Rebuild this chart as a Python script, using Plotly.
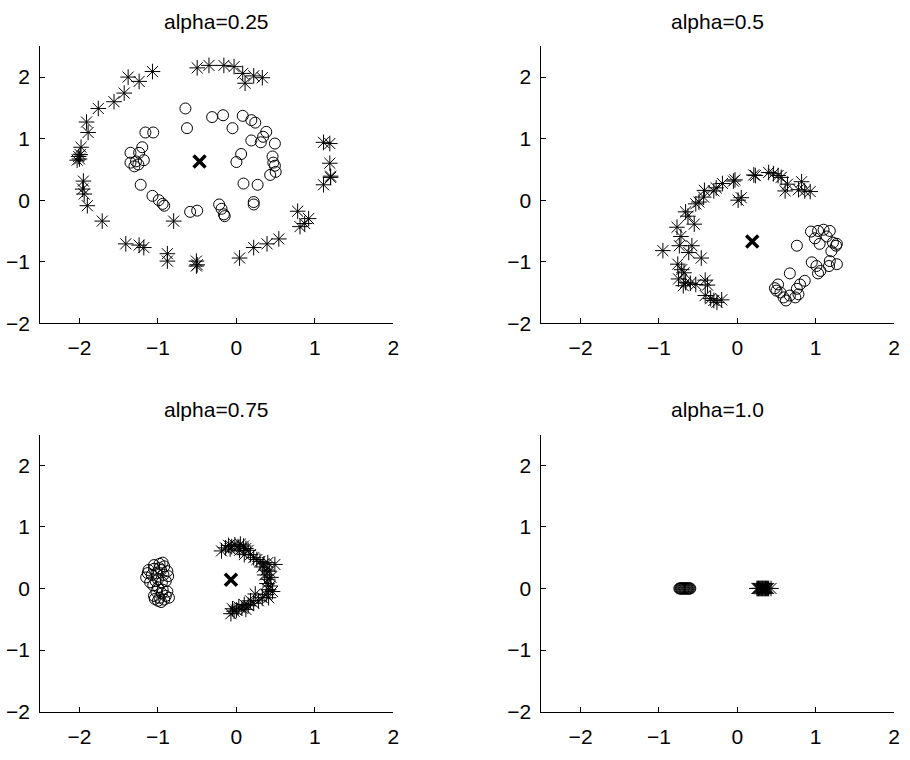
import plotly.graph_objects as go

titles = ["alpha=0.25", "alpha=0.5", "alpha=0.75", "alpha=1.0"]
x_ticks = [-2, -1, 0, 1, 2]
y_ticks = [-2, -1, 0, 1, 2]

# Panel 1 (alpha=0.25)
p1_star_x = [-1.07, -1.38, -1.24, -1.43, -1.56, -1.76, -1.91, -1.89, -1.98, -2.01, -2.00, -2.03, -1.99,
             -1.95, -1.96, -1.94, -1.90, -1.71, -1.41, -1.24, -1.18, -0.88, -0.88, -0.51, -0.51, -0.80,
             -0.50, -0.35, -0.16, -0.03, 0.08, 0.11, 0.22, 0.33, 1.11, 1.19, 1.19, 1.20, 1.20, 1.11,
             0.78, 0.92, 0.87, 0.81, 0.54, 0.39, 0.22, 0.04, -0.50]
p1_star_y = [2.09, 2.00, 1.93, 1.74, 1.60, 1.49, 1.27, 1.10, 0.86, 0.71, 0.67, 0.65, 0.74,
             0.31, 0.18, 0.10, -0.09, -0.34, -0.71, -0.73, -0.77, -0.87, -0.99, -0.99, -1.07, -0.34,
             2.15, 2.19, 2.19, 2.17, 2.06, 1.90, 2.02, 1.99, 0.94, 0.92, 0.60, 0.39, 0.37, 0.25,
             -0.18, -0.30, -0.38, -0.43, -0.63, -0.71, -0.77, -0.94, -1.05]
p1_circ_x = [-0.65, -0.63, -1.16, -1.06, -1.20, -1.35, -1.24, -1.35, -1.18, -1.28, -1.30, -1.25,
             -1.22, -1.07, -0.99, -0.92, -0.94, -0.59, -0.50,
             -0.31, -0.17, -0.05, 0.08, 0.19, 0.24, 0.38, 0.34, 0.19, 0.31, 0.49, 0.06, 0.00,
             0.46, 0.47, 0.49, 0.50, 0.43, 0.09, 0.27, 0.22, 0.22, -0.22, -0.19, -0.16, -0.15]
p1_circ_y = [1.49, 1.17, 1.10, 1.10, 0.86, 0.77, 0.77, 0.61, 0.65, 0.63, 0.55, 0.58,
             0.25, 0.07, 0.00, -0.09, -0.06, -0.19, -0.17,
             1.35, 1.38, 1.17, 1.37, 1.30, 1.26, 1.11, 1.03, 0.97, 0.94, 0.92, 0.75, 0.62,
             0.71, 0.61, 0.56, 0.46, 0.41, 0.27, 0.25, -0.03, -0.07, -0.07, -0.14, -0.23, -0.26]
p1_center = ([-0.47], [0.63])

# Panel 2 (alpha=0.5)
p2_star_x = [0.21, -0.03, -0.05, -0.19, -0.27, -0.30, -0.42, -0.43, -0.49, -0.53, 0.05, 0.01,
             -0.66, -0.63, -0.55, -0.77, -0.72, -0.74, -0.58, -0.62, -0.46, -0.95, -0.76, -0.71,
             -0.68, -0.75, -0.66, -0.60, -0.53, -0.41, -0.38, -0.69, -0.41, -0.34, -0.30, -0.26, -0.20,
             0.23, 0.40, 0.46, 0.52, 0.56, 0.64, 0.61, 0.82, 0.78, 0.86, 0.93]
p2_star_y = [0.41, 0.33, 0.31, 0.27, 0.20, 0.15, 0.16, 0.05, -0.03, -0.06, 0.04, 0.00,
             -0.19, -0.26, -0.39, -0.44, -0.59, -0.74, -0.74, -0.85, -0.94, -0.82, -1.04, -1.13,
             -1.18, -1.28, -1.34, -1.35, -1.37, -1.30, -1.38, -1.39, -1.55, -1.60, -1.63, -1.66, -1.62,
             0.40, 0.45, 0.43, 0.40, 0.37, 0.26, 0.15, 0.30, 0.17, 0.15, 0.14]
p2_circ_x = [0.76, 0.94, 1.03, 1.10, 1.18, 0.99, 1.05, 1.14, 1.22, 1.26, 1.20, 1.27,
             0.95, 1.01, 1.06, 1.03, 1.18, 1.27, 1.17, 0.67, 0.86, 0.80, 0.76, 0.52,
             0.48, 0.55, 0.59, 0.67, 0.74, 0.62, 0.50, 0.78]
p2_circ_y = [-0.74, -0.51, -0.50, -0.48, -0.50, -0.62, -0.71, -0.59, -0.69, -0.74, -0.83, -0.71,
             -1.01, -1.07, -1.15, -1.19, -0.99, -1.04, -1.07, -1.19, -1.31, -1.37, -1.44, -1.37,
             -1.43, -1.50, -1.58, -1.55, -1.58, -1.63, -1.47, -1.53]
p2_center = ([0.19], [-0.67])

# Panel 3 (alpha=0.75)
p3_star_x = [-0.19, -0.14, -0.10, -0.06, -0.02, 0.02, 0.05, 0.09, 0.12, 0.15, 0.04, -0.08, 0.10, 0.18,
             0.22, 0.26, 0.30, 0.35, 0.40, 0.49, 0.33, 0.38, 0.42, 0.36, 0.40, 0.44, 0.39, 0.43, 0.41,
             0.46, 0.38, 0.41, 0.33, 0.28, 0.24, 0.22, 0.18, 0.15, 0.10, 0.07, 0.03, 0.00, -0.03,
             -0.07, -0.05, 0.12]
p3_star_y = [0.61, 0.66, 0.70, 0.68, 0.71, 0.68, 0.72, 0.69, 0.65, 0.62, 0.62, 0.64, 0.55, 0.55,
             0.50, 0.47, 0.44, 0.40, 0.42, 0.39, 0.35, 0.30, 0.28, 0.22, 0.15, 0.18, 0.08, 0.04, -0.02,
             -0.05, -0.10, -0.15, -0.15, -0.20, -0.09, -0.24, -0.20, -0.28, -0.26, -0.32, -0.30, -0.35,
             -0.37, -0.41, -0.33, -0.34]
p3_circ_x = [-1.12, -1.05, -0.98, -0.92, -0.88, -0.87, -1.15, -1.10, -1.02, -0.96, -1.00, -0.95,
             -1.06, -0.90, -1.08, -0.98, -1.03, -0.93, -1.13, -1.00, -1.05, -0.94,
             -1.02, -0.95, -0.90, -1.05, -0.98, -0.92, -1.00, -0.88, -0.96, -1.04, -0.86, -0.94]
p3_circ_y = [0.30, 0.38, 0.40, 0.36, 0.28, 0.20, 0.18, 0.10, 0.25, 0.30, 0.15, 0.10,
             0.05, 0.12, 0.22, 0.33, 0.12, 0.22, 0.25, 0.02, 0.32, 0.42,
             -0.05, -0.08, -0.12, -0.12, -0.15, -0.18, -0.20, -0.05, -0.22, -0.17, -0.15, -0.02]
p3_center = ([-0.07], [0.14])

# Panel 4 (alpha=1.0)
p4_star_x = [0.25, 0.26, 0.27, 0.28, 0.29, 0.30, 0.31, 0.32, 0.33, 0.34, 0.35, 0.36, 0.37, 0.38,
             0.39, 0.40, 0.43]
p4_star_y = [0.0] * 17
p4_circ_x = [-0.74, -0.73, -0.72, -0.71, -0.70, -0.69, -0.68, -0.67, -0.66, -0.65, -0.64, -0.63,
             -0.62, -0.61, -0.60]
p4_circ_y = [0.0] * 15
p4_center = ([0.33], [0.0])

panels = [
    (p1_star_x, p1_star_y, p1_circ_x, p1_circ_y, p1_center),
    (p2_star_x, p2_star_y, p2_circ_x, p2_circ_y, p2_center),
    (p3_star_x, p3_star_y, p3_circ_x, p3_circ_y, p3_center),
    (p4_star_x, p4_star_y, p4_circ_x, p4_circ_y, p4_center),
]

W, H = 910, 760
x_doms = [[40.5 / W, 396 / W], [545 / W, 900 / W]]
y_doms = [[(H - 328) / H, (H - 47) / H], [(H - 722) / H, (H - 441) / H]]

fig = go.Figure()
font = dict(family="Liberation Sans, Arial, sans-serif", size=21, color="black")
annotations = []
for i, (sx, sy, cx, cy, cen) in enumerate(panels):
    r, c = divmod(i, 2)
    xa = "x" if i == 0 else f"x{i+1}"
    ya = "y" if i == 0 else f"y{i+1}"
    fig.add_trace(go.Scatter(x=cx, y=cy, mode="markers", xaxis=xa, yaxis=ya,
                             marker=dict(symbol="circle-open", size=11, color="black",
                                         line=dict(width=1, color="black")),
                             showlegend=False))
    fig.add_trace(go.Scatter(x=sx, y=sy, mode="markers", xaxis=xa, yaxis=ya,
                             marker=dict(symbol="asterisk-open", size=13, color="black",
                                         line=dict(width=1, color="black")),
                             showlegend=False))
    fig.add_trace(go.Scatter(x=cen[0], y=cen[1], mode="markers", xaxis=xa, yaxis=ya,
                             marker=dict(symbol="x-thin-open", size=12, color="black",
                                         line=dict(width=3.5, color="black")),
                             showlegend=False))
    axkw = dict(showline=True, linecolor="black", linewidth=1, ticks="inside", ticklen=5,
                tickcolor="black", showgrid=False, zeroline=False, tickfont=font,
                mirror=False, fixedrange=True)
    xkey = "xaxis" if i == 0 else f"xaxis{i+1}"
    ykey = "yaxis" if i == 0 else f"yaxis{i+1}"
    fig.layout[xkey] = dict(domain=x_doms[c], range=[-2.5, 2], tickvals=x_ticks,
                            anchor=ya, ticklabelstandoff=6, **axkw)
    fig.layout[ykey] = dict(domain=y_doms[r], range=[-2, 2.5], tickvals=y_ticks,
                            anchor=xa, ticklabelstandoff=5, **axkw)
    annotations.append(dict(text=titles[i], xref="paper", yref="paper",
                            x=sum(x_doms[c]) / 2, y=y_doms[r][1] + 25 / H,
                            xanchor="center", yanchor="middle", showarrow=False, font=font))

fig.update_layout(width=W, height=H, margin=dict(l=0, r=0, t=0, b=0),
                  paper_bgcolor="white", plot_bgcolor="white", annotations=annotations)
fig.write_html("out.html")
